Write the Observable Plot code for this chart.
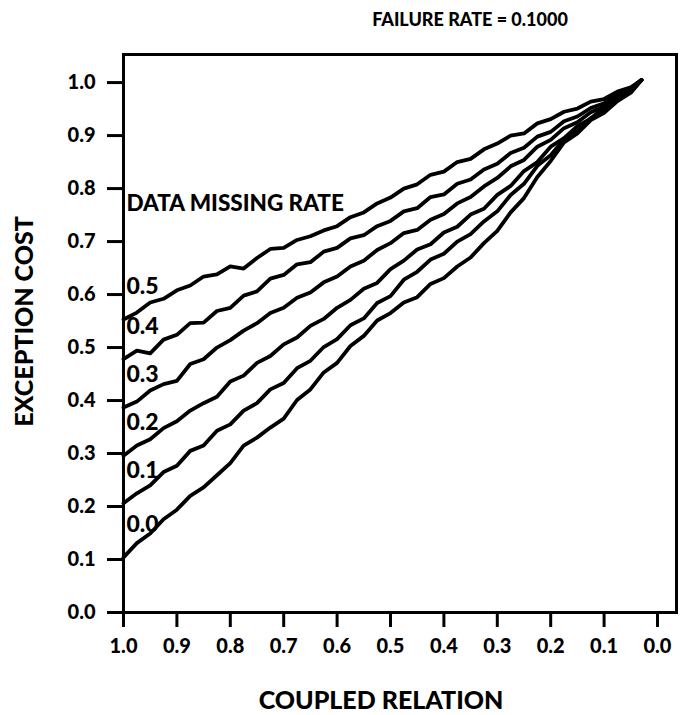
<!DOCTYPE html>
<html>
<head>
<meta charset="utf-8">
<script src="https://cdn.jsdelivr.net/npm/d3@7"></script>
<script src="https://cdn.jsdelivr.net/npm/@observablehq/plot@0.6"></script>
<style>
  html, body { margin: 0; padding: 0; background: #fff; }
</style>
</head>
<body>
<div id="chart"></div>
<script>
// Coupled relation (x), running from 1.0 down towards 0.0
const coupled = [1.000, 0.975, 0.950, 0.925, 0.900, 0.875, 0.850, 0.825, 0.800, 0.775,
                 0.750, 0.725, 0.700, 0.675, 0.650, 0.625, 0.600, 0.575, 0.550, 0.525,
                 0.500, 0.475, 0.450, 0.425, 0.400, 0.375, 0.350, 0.325, 0.300, 0.275,
                 0.250, 0.225, 0.200, 0.175, 0.150, 0.125, 0.100, 0.075, 0.050, 0.030];

// Exception cost for each data missing rate
const rate00 = [0.104, 0.131, 0.149, 0.176, 0.194, 0.220, 0.236, 0.259, 0.282, 0.315,
                0.330, 0.349, 0.366, 0.401, 0.421, 0.453, 0.471, 0.503, 0.522, 0.551,
                0.565, 0.585, 0.595, 0.620, 0.631, 0.653, 0.670, 0.697, 0.720, 0.755,
                0.782, 0.822, 0.852, 0.887, 0.904, 0.929, 0.943, 0.965, 0.981, 1.005];
const rate01 = [0.206, 0.225, 0.240, 0.265, 0.277, 0.305, 0.315, 0.343, 0.355, 0.381,
                0.395, 0.421, 0.433, 0.461, 0.475, 0.501, 0.516, 0.542, 0.555, 0.584,
                0.597, 0.628, 0.643, 0.666, 0.677, 0.700, 0.714, 0.738, 0.757, 0.788,
                0.809, 0.843, 0.863, 0.893, 0.909, 0.933, 0.946, 0.968, 0.982, 1.005];
const rate02 = [0.296, 0.315, 0.327, 0.348, 0.361, 0.381, 0.395, 0.407, 0.436, 0.447,
                0.471, 0.484, 0.506, 0.519, 0.541, 0.554, 0.575, 0.590, 0.611, 0.622,
                0.648, 0.664, 0.685, 0.695, 0.717, 0.728, 0.751, 0.762, 0.788, 0.805,
                0.833, 0.850, 0.879, 0.895, 0.918, 0.932, 0.954, 0.966, 0.988, 1.005];
const rate03 = [0.387, 0.398, 0.419, 0.431, 0.437, 0.469, 0.478, 0.500, 0.514, 0.532,
                0.546, 0.565, 0.575, 0.594, 0.604, 0.623, 0.634, 0.653, 0.664, 0.684,
                0.697, 0.716, 0.722, 0.741, 0.752, 0.772, 0.784, 0.804, 0.820, 0.842,
                0.854, 0.879, 0.892, 0.914, 0.925, 0.944, 0.955, 0.975, 0.986, 1.005];
const rate04 = [0.478, 0.494, 0.489, 0.515, 0.524, 0.546, 0.547, 0.569, 0.575, 0.598,
                0.606, 0.630, 0.637, 0.657, 0.661, 0.681, 0.688, 0.706, 0.712, 0.729,
                0.739, 0.757, 0.763, 0.784, 0.789, 0.809, 0.817, 0.836, 0.847, 0.867,
                0.877, 0.898, 0.907, 0.927, 0.936, 0.952, 0.961, 0.978, 0.988, 1.005];
const rate05 = [0.553, 0.566, 0.585, 0.592, 0.608, 0.617, 0.634, 0.638, 0.653, 0.649,
                0.669, 0.686, 0.688, 0.703, 0.710, 0.721, 0.729, 0.746, 0.755, 0.772,
                0.783, 0.800, 0.808, 0.826, 0.832, 0.850, 0.856, 0.874, 0.885, 0.900,
                0.904, 0.923, 0.931, 0.945, 0.951, 0.964, 0.969, 0.983, 0.991, 1.005];

const missingRates = ["0.0", "0.1", "0.2", "0.3", "0.4", "0.5"];
const series = [rate00, rate01, rate02, rate03, rate04, rate05];

const xTicks = [1.0, 0.9, 0.8, 0.7, 0.6, 0.5, 0.4, 0.3, 0.2, 0.1, 0.0];
const yTicks = [0.0, 0.1, 0.2, 0.3, 0.4, 0.5, 0.6, 0.7, 0.8, 0.9, 1.0];

const title = "FAILURE RATE = 0.1000";
const xLabel = "COUPLED RELATION";
const yLabel = "EXCEPTION COST";
const legendTitle = "DATA MISSING RATE";

// Long table: one row per point of each missing-rate curve
const rows = series.flatMap((values, i) =>
  values.map((cost, j) => ({rate: missingRates[i], coupled: coupled[j], cost})));
// First point of each curve, used to hang its label
const starts = series.map((values, i) => ({rate: missingRates[i], coupled: coupled[0], cost: values[0]}));

const font = "Lato, 'Open Sans', 'DejaVu Sans', sans-serif";
const fmt = d => d.toFixed(1);

const chart = Plot.plot({
  width: 690,
  height: 715,
  marginLeft: 123,
  marginRight: 14,
  marginTop: 54,
  marginBottom: 103,
  style: {fontFamily: font, fontWeight: 900, fontSize: "20px", color: "#000", background: "#fff"},
  x: {domain: [1, -0.0356], label: null},
  y: {domain: [0, 1.053], label: null},
  marks: [
    Plot.axisX({ticks: xTicks, tickFormat: fmt, tickSize: 15, tickPadding: 11, strokeWidth: 3, label: null}),
    Plot.axisY({ticks: yTicks, tickFormat: fmt, tickSize: 16, tickPadding: 12, strokeWidth: 3, label: null}),
    Plot.frame({stroke: "#000", strokeWidth: 3}),
    Plot.line(rows, {x: "coupled", y: "cost", z: "rate", stroke: "#000", strokeWidth: 3.8, strokeLinejoin: "round", strokeLinecap: "round"}),
    Plot.text(starts, {x: "coupled", y: "cost", text: "rate", textAnchor: "start", lineAnchor: "middle", dx: 3, dy: -33, fontSize: 23, fontWeight: 900, fill: "#000"}),
    Plot.text([legendTitle], {frameAnchor: "top-left", textAnchor: "start", lineAnchor: "middle", dx: 3, dy: 149, fontSize: 22.5, fontWeight: 900, fill: "#000"}),
    Plot.text([title], {frameAnchor: "top", lineAnchor: "middle", dx: 70, dy: -34, fontSize: 18, fontWeight: 900, fill: "#000"}),
    Plot.text([xLabel], {frameAnchor: "bottom", lineAnchor: "middle", dx: -19, dy: 88, fontSize: 25, fontWeight: 900, fill: "#000"}),
    Plot.text([yLabel], {frameAnchor: "left", textAnchor: "middle", lineAnchor: "middle", dx: -99, dy: -12, rotate: -90, fontSize: 25, fontWeight: 900, fill: "#000"})
  ]
});

document.getElementById("chart").append(chart);
</script>
</body>
</html>
